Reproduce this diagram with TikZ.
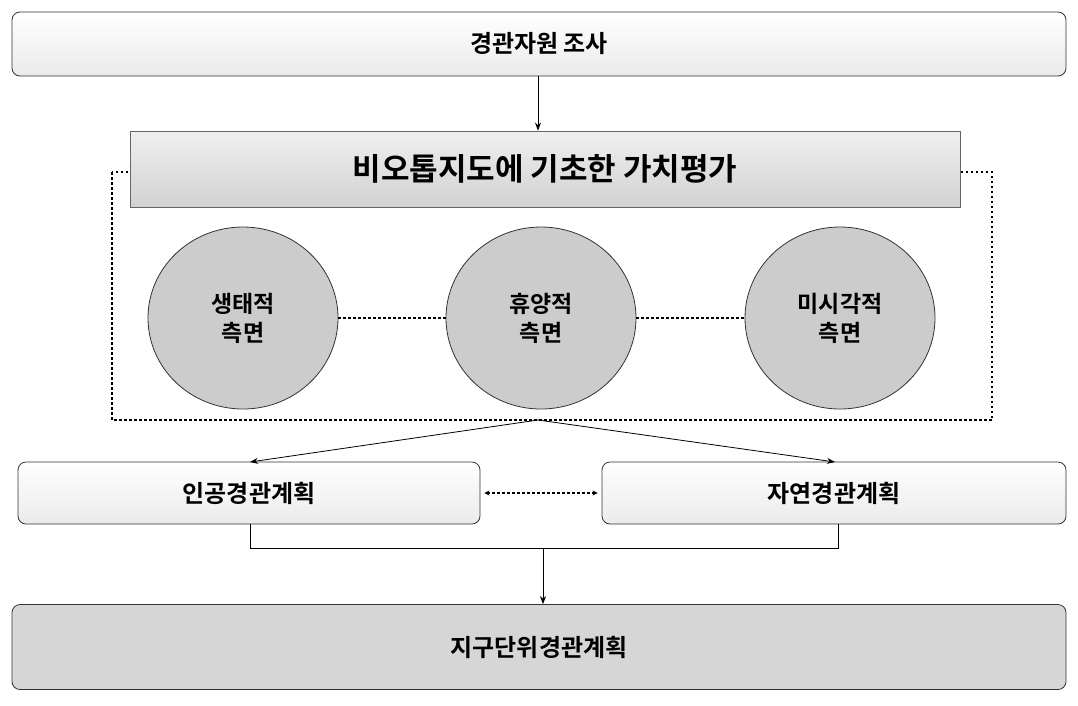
\documentclass[tikz,border=0pt]{standalone}
\usepackage{fontspec}
\setmainfont{Noto Sans CJK KR}[BoldFont={* Bold}]
\usetikzlibrary{arrows.meta,shapes.geometric}
\begin{document}
\begin{tikzpicture}[x=1pt,y=-1pt,
 box/.style={draw=black!80,rounded corners=8pt,line width=0.8pt,top color=white,bottom color=black!8},
 circ/.style={draw=black!80,ellipse,line width=0.8pt,fill=black!20,minimum width=190pt,minimum height=182pt,align=center,font=\fontsize{23}{29}\selectfont\bfseries},
 dot/.style={line width=2.5pt,dash pattern=on 2.5pt off 2.5pt},
 arr/.style={-{Stealth[length=8pt,width=6pt]},line width=0.8pt},
 txt/.style={font=\fontsize{24}{28}\selectfont\bfseries}]
\useasboundingbox (0,0) rectangle (1078,705);
\node[box,minimum width=1054pt,minimum height=64pt,txt] (top) at (539,44) {경관자원 조사};
\draw[dot] (112,172) rectangle (992,420);
\node[draw=black!60,line width=0.8pt,top color=black!6,bottom color=black!18,minimum width=830pt,minimum height=76pt,font=\fontsize{31}{35}\selectfont\bfseries] (val) at (545,169) {비오톱지도에 기초한 가치평가};
\draw[arr] (top.south -| 538,0) -- (val.north -| 538,0);
\node[circ] (c1) at (243,318) {생태적\\측면};
\node[circ] (c2) at (541,318) {휴양적\\측면};
\node[circ] (c3) at (840,318) {미시각적\\측면};
\draw[dot] (c1) -- (c2);
\draw[dot] (c2) -- (c3);
\coordinate (s) at (538,420);
\node[box,minimum width=462pt,minimum height=62pt,txt] (l) at (249,493) {인공경관계획};
\node[box,minimum width=464pt,minimum height=62pt,txt] (r) at (834,493) {자연경관계획};
\draw[line width=0.8pt,-{Stealth[length=8pt,width=6pt]}] (s) -- (250,462);
\draw[line width=0.8pt,-{Stealth[length=8pt,width=6pt]}] (s) -- (835,462);
\draw[dot,{Stealth[length=5pt,width=5pt]}-{Stealth[length=5pt,width=5pt]}] ([xshift=4pt]l.east) -- ([xshift=-4pt]r.west);
\node[draw=black!80,rounded corners=8pt,line width=0.8pt,fill=black!16,minimum width=1054pt,minimum height=85pt,txt] (bot) at (539,647) {지구단위경관계획};
\draw[line width=0.8pt] (l.south -| 250,0) -- (250,548) -- (838,548) -- (r.south -| 838,0);
\draw[arr] (543,548) -- (bot.north -| 543,0);
\end{tikzpicture}
\end{document}
